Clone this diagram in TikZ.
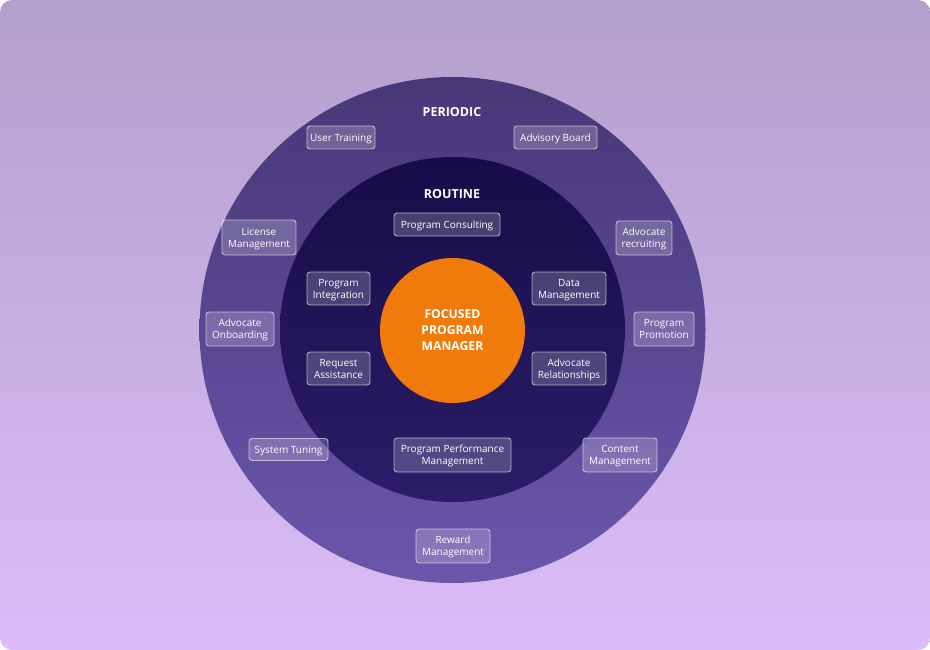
\documentclass[tikz,border=0pt]{standalone}
\usepackage{fontspec}
\newfontfamily\boxfont{Open Sans}
\definecolor{bgtop}{HTML}{B39FCB}
\definecolor{bgbot}{HTML}{DCBCF9}
\definecolor{ringtop}{HTML}{463878}
\definecolor{ringbot}{HTML}{6A57AD}
\definecolor{coretop}{HTML}{170C48}
\definecolor{corebot}{HTML}{2C1D69}
\definecolor{hub}{HTML}{F07A0A}
\tikzset{
  bx/.style 2 args={draw=white, draw opacity=0.6, fill=white, fill opacity=0.2,
    text opacity=1, text=white, rounded corners=3pt, line width=0.9pt,
    align=center, inner sep=0pt, minimum width=#1pt, minimum height=#2pt,
    text depth=0pt,
    font=\boxfont\fontsize{10}{12}\selectfont},
  ttl/.style={text=white, font=\boxfont\bfseries\fontsize{12.5}{14}\selectfont},
}
\begin{document}
\begin{tikzpicture}[x=1pt,y=-1pt]
\useasboundingbox (0,0) rectangle (930,650);
\shade[top color=bgtop, bottom color=bgbot, rounded corners=12pt] (0,0) rectangle (930,650);
\shade[top color=ringtop, bottom color=ringbot] (452.5,330) circle (253pt);
\shade[top color=coretop, bottom color=corebot] (452.5,329.5) circle (172.5pt);
\node[circle, fill=hub, minimum size=145pt, inner sep=0pt, text=white, align=center,
  font=\boxfont\bfseries\fontsize{12.2}{16}\selectfont] (hubnode) at (452.5,330.5)
  {FOCUSED\\PROGRAM\\MANAGER};
\node[ttl] (periodic) at (452,112) {PERIODIC};
\node[ttl] (routine) at (452,194) {ROUTINE};
% outer ring
\node[bx={68}{23}] (ut) at (341,137.5) {User Training};
\node[bx={83}{23}] (ab) at (555.5,137.5) {Advisory Board};
\node[bx={74}{35}] (lm) at (259,237.5) {License\\Management};
\node[bx={56}{34}] (ar) at (644,238) {Advocate\\recruiting};
\node[bx={68}{34}] (ao) at (240,329) {Advocate\\Onboarding};
\node[bx={60}{34}] (pp) at (664,329) {Program\\Promotion};
\node[bx={79}{22}] (st) at (288.5,449.5) {System Tuning};
\node[bx={74}{34}] (cm) at (620,455) {Content\\Management};
\node[bx={74}{34}] (rm) at (453,546) {Reward\\Management};
% inner circle
\node[bx={106}{23}] (pc) at (447,224.5) {Program Consulting};
\node[bx={63}{33}] (pi) at (338.5,288.5) {Program\\Integration};
\node[bx={74}{33}] (dm) at (569,288.5) {Data\\Management};
\node[bx={63}{33}] (ra) at (338.5,368.5) {Request\\Assistance};
\node[bx={74}{33}] (arl) at (569,368.5) {Advocate\\Relationships};
\node[bx={117}{34}] (ppm) at (452.5,455) {Program Performance\\Management};
\end{tikzpicture}
\end{document}
